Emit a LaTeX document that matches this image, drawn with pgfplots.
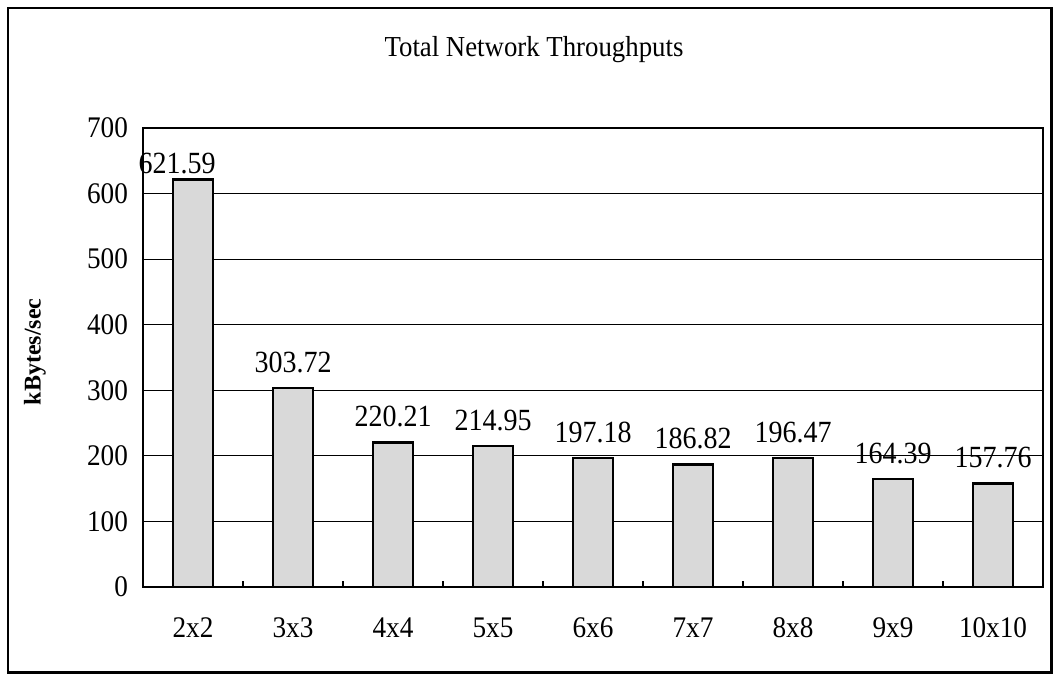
\documentclass[border=0pt]{standalone}
\usepackage{fontspec}
\setmainfont{Liberation Serif}
\usepackage{pgfplots}
\pgfplotsset{compat=1.18}
\begin{document}
\begin{tikzpicture}[x=0.5pt,y=0.5pt]
\useasboundingbox (0,0) rectangle (1053,674);
\draw[line width=1.2pt] (8,1.5) rectangle (1051.5,666);
\node[font=\fontsize{13.4}{15}\selectfont, yscale=1.08] at (534,624) {Total Network Throughputs};
\begin{axis}[
  at={(71.5pt,43.5pt)}, anchor=south west,
  scale only axis, width=450pt, height=229.5pt,
  ybar, bar width=0.4, bar shift=0pt,
  xmin=-0.5, xmax=8.5, ymin=0, ymax=700,
  xtick={0,...,8},
  xticklabels={2x2,3x3,4x4,5x5,6x6,7x7,8x8,9x9,10x10},
  minor xtick={0.5,1.5,...,7.5},
  ytick={0,100,...,700},
  xtick pos=bottom, ytick pos=left,
  tick align=inside,
  major tick length=0pt, minor tick length=3pt,
  tick style={black, line width=0.6pt},
  ymajorgrids, grid style={black, line width=0.5pt},
  axis line style={line width=1pt},
  /pgf/number format/assume math mode=true,
  tick label style={font=\fontsize{13.6}{15}\selectfont, yscale=1.1},
  xticklabel style={yshift=-12pt, text height=1.6ex, text depth=0pt},
  yticklabel style={xshift=-4pt},
  ylabel={kBytes/sec},
  ylabel style={font=\bfseries\fontsize{12}{14}\selectfont,
    at={(axis description cs:-0.12,0.512)}, anchor=center},
  point meta=explicit symbolic,
  nodes near coords,
  every node near coord/.append style={font=\fontsize{14}{16}\selectfont, yscale=1.1, yshift=3pt},
]
\addplot[fill=gray!30, draw=black, line width=1.2pt,
  every node near coord/.append style={xshift=-8pt, yshift=-4.5pt}]
  coordinates {(0,621.59) [621.59]};
\addplot[fill=gray!30, draw=black, line width=1.2pt]
  coordinates {(1,303.72) [303.72] (2,220.21) [220.21] (3,214.95) [214.95]
               (4,197.18) [197.18] (5,186.82) [186.82] (6,196.47) [196.47]
               (7,164.39) [164.39] (8,157.76) [157.76]};
\end{axis}
\end{tikzpicture}
\end{document}
